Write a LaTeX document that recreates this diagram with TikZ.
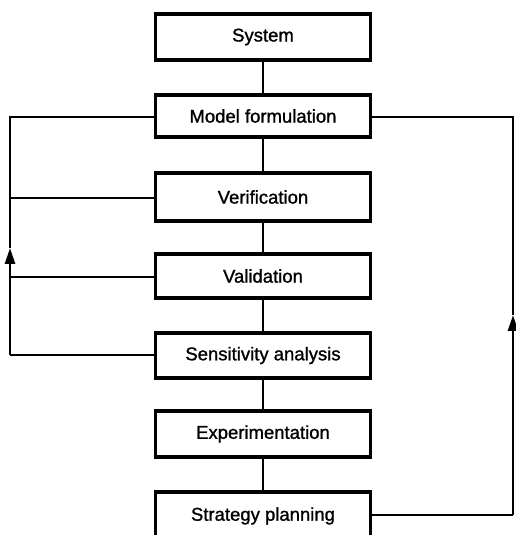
\documentclass[tikz,border=0pt]{standalone}
\usepackage{fontspec}
\setmainfont{Liberation Sans}[BoldFont=Liberation Sans, BoldFeatures={FakeBold=1.2}]
\usetikzlibrary{arrows.meta}
\begin{document}
\begin{tikzpicture}[x=1pt,y=1pt,
  stage/.style={draw, line width=3.2pt, minimum width=215pt, inner sep=0pt,
    font=\fontsize{18.5}{20}\selectfont\bfseries},
  link/.style={line width=2.8pt},
  tip/.style={-{Triangle[length=16pt,width=10pt]}, line width=2.8pt}]
\useasboundingbox (0,0) rectangle (516,535);
\clip (0,0) rectangle (516,535);
\fill[white] (0,0) rectangle (516,535);
\node[stage, minimum height=46pt] (sys) at (263,498) {System};
\node[stage, minimum height=42pt] (mf) at (263,419) {Model formulation};
\node[stage, minimum height=48pt] (ver) at (263,338) {Verification};
\node[stage, minimum height=44pt] (val) at (263,259) {Validation};
\node[stage, minimum height=45pt] (sens) at (263,179.5) {Sensitivity analysis};
\node[stage, minimum height=46pt] (exp) at (263,101) {Experimentation};
\node[stage, minimum height=50pt, text depth=0pt] (strat) at (263,18) {\raisebox{6pt}{Strategy planning}};
% stems
\draw[link] (sys) -- (mf);
\draw[link] (mf) -- (ver);
\draw[link] (ver) -- (val);
\draw[link] (val) -- (sens);
\draw[link] (sens) -- (exp);
\draw[link] (exp) -- (strat);
% left feedback loop
\coordinate (lb) at (10,180);
\coordinate (la) at (10,287);
\coordinate (lt) at (10,418);
\coordinate (lver) at (10,337);
\coordinate (lval) at (10,258);
\draw[link] (sens.west |- lb) -- (lb);
\draw[tip] (lb) -- (la);
\draw[link] (la) -- (lt) -- (mf.west |- lt);
\draw[link] (ver.west |- lver) -- (lver);
\draw[link] (val.west |- lval) -- (lval);
% right feedback loop
\coordinate (rb) at (513,20);
\coordinate (ra) at (513,220);
\coordinate (rt) at (513,418);
\draw[link] (strat.east |- rb) -- (rb);
\draw[tip] (rb) -- (ra);
\draw[link] (ra) -- (rt) -- (mf.east |- rt);
\end{tikzpicture}
\end{document}
